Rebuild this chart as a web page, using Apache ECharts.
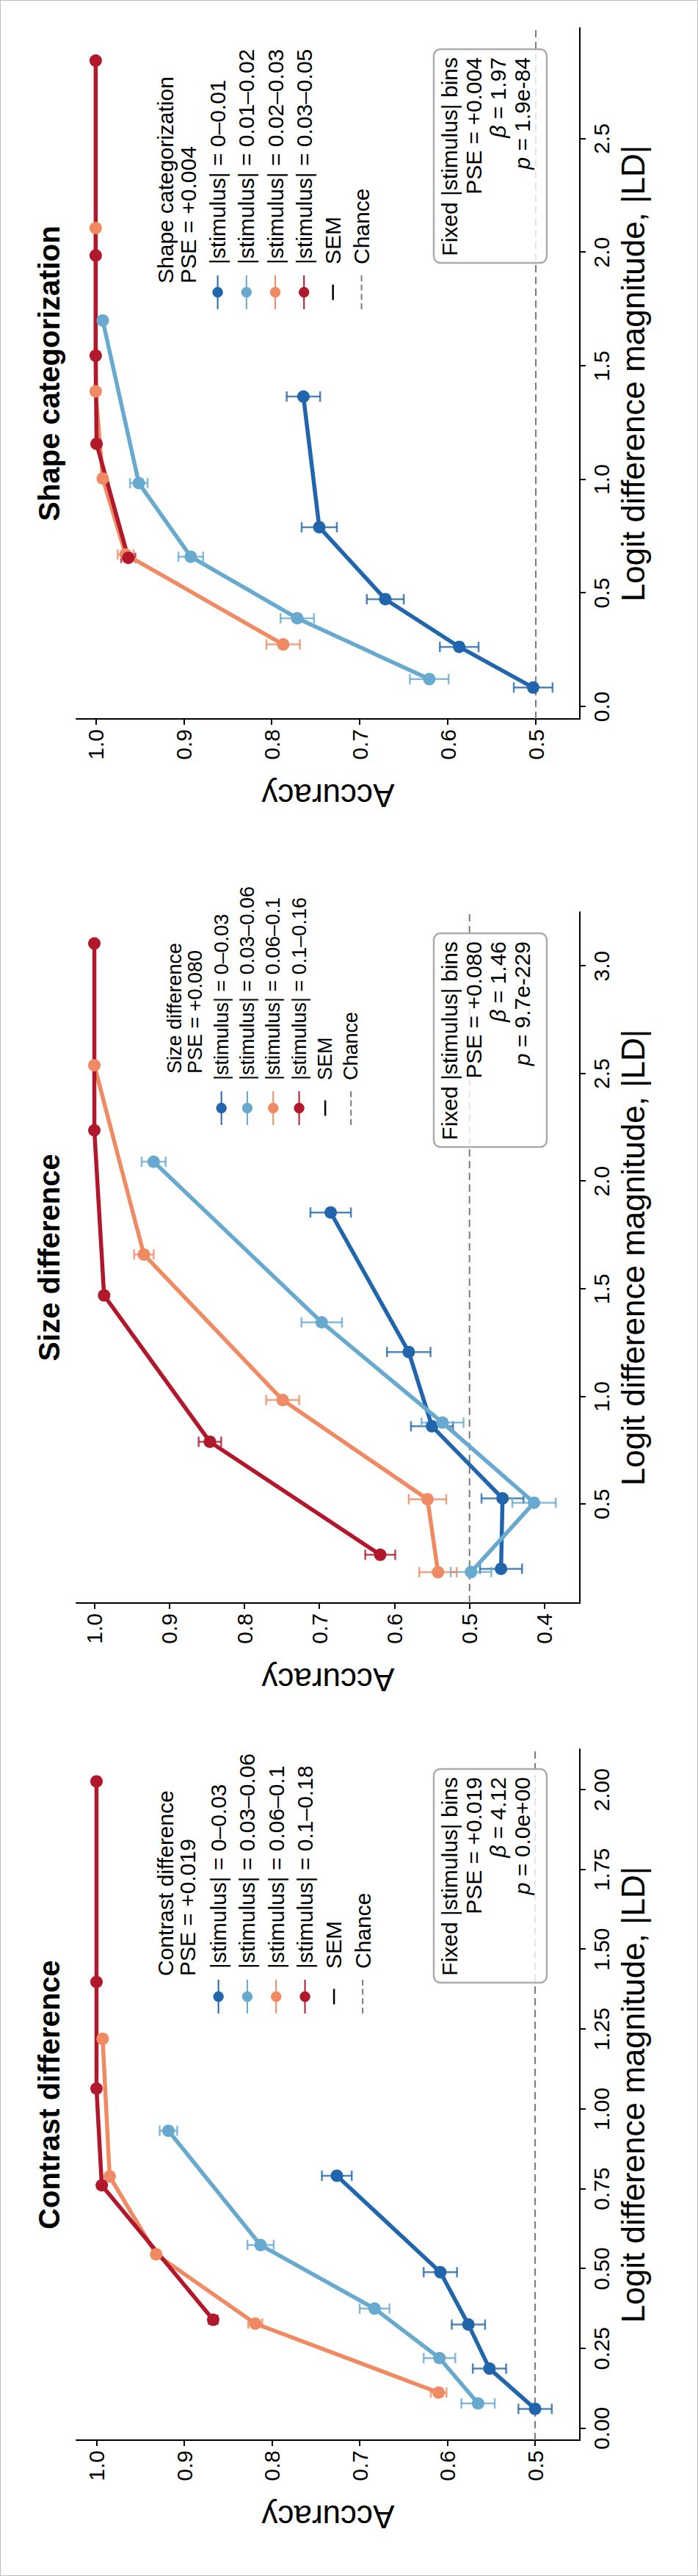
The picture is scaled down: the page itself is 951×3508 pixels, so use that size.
<!DOCTYPE html>
<html>
<head>
<meta charset="utf-8">
<title>Accuracy vs logit difference magnitude</title>
<script src="https://cdn.jsdelivr.net/npm/echarts@6/dist/echarts.min.js"></script>
<style>
  html, body { margin: 0; padding: 0; background: #fff; overflow: hidden; }
  /* the figure is drawn landscape and turned a quarter turn to the left */
  #main { position: absolute; left: 0; top: 0; width: 3508px; height: 951px;
          transform-origin: 0 0; transform: translate(0, 3508px) rotate(-90deg); }
  #frame { position: absolute; left: 0; top: 0; width: 951px; height: 3508px;
           box-sizing: border-box; border: 1px solid #bdbdbd; pointer-events: none; }
</style>
</head>
<body>
<div id="main"></div>
<div id="frame"></div>
<script type="text/javascript">
var font = '"Liberation Sans", Arial, sans-serif';
var colors = ['#2166ac', '#67a9cf', '#ef8a62', '#b2182b'];
var chance = 0.5;

// Contrast difference
var contrastBins = ['|stimulus| = 0–0.03', '|stimulus| = 0.03–0.06', '|stimulus| = 0.06–0.1', '|stimulus| = 0.1–0.18'];
var contrastLd  = [[0.061, 0.187, 0.325, 0.489, 0.791],
                   [0.078, 0.220, 0.375, 0.574, 0.932],
                   [0.112, 0.328, 0.545, 0.789, 1.220],
                   [0.340, 0.761, 1.064, 1.398, 2.026]];
var contrastAcc = [[0.500, 0.552, 0.576, 0.608, 0.726],
                   [0.565, 0.609, 0.683, 0.813, 0.918],
                   [0.610, 0.819, 0.932, 0.985, 0.993],
                   [0.867, 0.994, 1.000, 1.000, 1.000]];
var contrastSem = [[0.019, 0.019, 0.019, 0.019, 0.017],
                   [0.019, 0.018, 0.017, 0.015, 0.010],
                   [0.009, 0.008, 0.004, 0.003, 0.003],
                   [0.005, 0.003, 0, 0, 0]];
var contrastLdTicks = [0, 0.25, 0.5, 0.75, 1.0, 1.25, 1.5, 1.75, 2.0];
var contrastAccTicks = [0.5, 0.6, 0.7, 0.8, 0.9, 1.0];
var contrastLdRange = [-0.037, 2.127];
var contrastAccRange = [0.449, 1.023];
var contrastStats = ['+0.019', '4.12', '0.0e+00'];

// Size difference
var sizeBins = ['|stimulus| = 0–0.03', '|stimulus| = 0.03–0.06', '|stimulus| = 0.06–0.1', '|stimulus| = 0.1–0.16'];
var sizeLd  = [[0.200, 0.527, 0.862, 1.207, 1.855],
               [0.185, 0.507, 0.879, 1.345, 2.091],
               [0.184, 0.523, 0.984, 1.660, 2.539],
               [0.265, 0.790, 1.470, 2.237, 3.105]];
var sizeAcc = [[0.458, 0.456, 0.550, 0.581, 0.685],
               [0.498, 0.414, 0.536, 0.697, 0.921],
               [0.542, 0.556, 0.749, 0.934, 1.000],
               [0.619, 0.846, 0.987, 1.000, 1.000]];
var sizeSem = [[0.028, 0.028, 0.028, 0.029, 0.027],
               [0.027, 0.029, 0.028, 0.027, 0.016],
               [0.025, 0.025, 0.022, 0.013, 0.002],
               [0.020, 0.015, 0.004, 0, 0]];
var sizeLdTicks = [0.5, 1.0, 1.5, 2.0, 2.5, 3.0];
var sizeAccTicks = [0.4, 0.5, 0.6, 0.7, 0.8, 0.9, 1.0];
var sizeLdRange = [0.041, 3.251];
var sizeAccRange = [0.353, 1.024];
var sizeStats = ['+0.080', '1.46', '9.7e-229'];

// Shape categorization
var shapeBins = ['|stimulus| = 0–0.01', '|stimulus| = 0.01–0.02', '|stimulus| = 0.02–0.03', '|stimulus| = 0.03–0.05'];
var shapeLd  = [[0.084, 0.263, 0.473, 0.790, 1.365],
                [0.121, 0.389, 0.660, 0.984, 1.700],
                [0.274, 0.670, 1.004, 1.388, 2.107],
                [0.655, 1.157, 1.545, 1.986, 2.844]];
var shapeAcc = [[0.503, 0.587, 0.671, 0.746, 0.764],
                [0.621, 0.771, 0.892, 0.951, 0.992],
                [0.787, 0.966, 0.992, 1.000, 1.000],
                [0.963, 0.999, 1.000, 1.000, 1.000]];
var shapeSem = [[0.022, 0.022, 0.021, 0.020, 0.019],
                [0.022, 0.019, 0.014, 0.010, 0.002],
                [0.019, 0.009, 0.003, 0.002, 0.002],
                [0.008, 0.002, 0, 0, 0]];
var shapeLdTicks = [0.0, 0.5, 1.0, 1.5, 2.0, 2.5];
var shapeAccTicks = [0.5, 0.6, 0.7, 0.8, 0.9, 1.0];
var shapeLdRange = [-0.054, 2.988];
var shapeAccRange = [0.450, 1.022];
var shapeStats = ['+0.004', '1.97', '1.9e-84'];

var panels = [
  { title: 'Contrast difference', bins: contrastBins, ld: contrastLd, acc: contrastAcc, sem: contrastSem,
    ldTicks: contrastLdTicks, accTicks: contrastAccTicks, ldRange: contrastLdRange, accRange: contrastAccRange,
    stats: contrastStats, digits: 2 },
  { title: 'Size difference', bins: sizeBins, ld: sizeLd, acc: sizeAcc, sem: sizeSem,
    ldTicks: sizeLdTicks, accTicks: sizeAccTicks, ldRange: sizeLdRange, accRange: sizeAccRange,
    stats: sizeStats, digits: 1 },
  { title: 'Shape categorization', bins: shapeBins, ld: shapeLd, acc: shapeAcc, sem: shapeSem,
    ldTicks: shapeLdTicks, accTicks: shapeAccTicks, ldRange: shapeLdRange, accRange: shapeAccRange,
    stats: shapeStats, digits: 1 }
];

// pixel layout of each panel (unrotated canvas)
var layout = [
  { left: 185,  legLeft: 765,  legTop: 278, legFont: 30, legLine: 39.3, headLeft: 817,  headY: 240, headLine: 30, boxLeft: 808 },
  { left: 1325, legLeft: 1975, legTop: 284, legFont: 27, legLine: 35.3, headLeft: 2046, headY: 252, headLine: 28, boxLeft: 1946 },
  { left: 2529, legLeft: 3086, legTop: 277, legFont: 30, legLine: 39.2, headLeft: 3122, headY: 241, headLine: 31, boxLeft: 3150 }
];
var plotTop = 104, plotW = 941, plotH = 686;

var semIcon = 'path://M0,0h0.01v0.01h-0.01z M12.5,8h21v2.5h-21z M45.99,17.99h0.01v0.01h-0.01z';
var chanceIcon = 'path://M0,0h0.01v0.01h-0.01z M0,8h8v2h-8z M12.7,8h8v2h-8z M25.4,8h8v2h-8z M38,8h8v2h-8z M45.99,17.99h0.01v0.01h-0.01z';

function errorBar(color) {
  return function (params, api) {
    var e = api.value(2);
    if (!e) return null;
    var lo = api.coord([api.value(0), api.value(1) - e]);
    var hi = api.coord([api.value(0), api.value(1) + e]);
    var cap = 7;
    var st = { stroke: color, lineWidth: 2.5, opacity: 0.8 };
    return { type: 'group', children: [
      { type: 'line', shape: { x1: lo[0], y1: lo[1], x2: hi[0], y2: hi[1] }, style: st },
      { type: 'line', shape: { x1: lo[0] - cap, y1: lo[1], x2: lo[0] + cap, y2: lo[1] }, style: st },
      { type: 'line', shape: { x1: hi[0] - cap, y1: hi[1], x2: hi[0] + cap, y2: hi[1] }, style: st }
    ]};
  };
}

var option = { animation: false, grid: [], xAxis: [], yAxis: [], legend: [], series: [], graphic: [] };

panels.forEach(function (p, i) {
  var L = layout[i];
  option.grid.push({ left: L.left, top: plotTop, width: plotW, height: plotH });

  option.xAxis.push({
    type: 'value', gridIndex: i, min: p.ldRange[0], max: p.ldRange[1],
    name: 'Logit difference magnitude, |LD|', nameLocation: 'middle', nameGap: 50,
    nameTextStyle: { fontSize: 44, color: '#000', fontFamily: font },
    axisLine: { show: true, onZero: false, lineStyle: { color: '#000', width: 2 } },
    axisTick: { show: true, length: 8, lineStyle: { color: '#000', width: 2 }, customValues: p.ldTicks },
    axisLabel: { fontSize: 30, color: '#000', fontFamily: font, margin: 14, customValues: p.ldTicks,
                 formatter: function (v) { return v.toFixed(p.digits); } },
    splitLine: { show: false }
  });
  option.yAxis.push({
    type: 'value', gridIndex: i, min: p.accRange[0], max: p.accRange[1],
    name: 'Accuracy', nameLocation: 'middle', nameGap: 82,
    nameTextStyle: { fontSize: 44, color: '#000', fontFamily: font },
    axisLine: { show: true, onZero: false, lineStyle: { color: '#000', width: 2 } },
    axisTick: { show: true, length: 8, lineStyle: { color: '#000', width: 2 }, customValues: p.accTicks },
    axisLabel: { fontSize: 30, color: '#000', fontFamily: font, margin: 14, customValues: p.accTicks,
                 formatter: function (v) { return v.toFixed(1); } },
    splitLine: { show: false }
  });

  // chance level
  option.series.push({
    type: 'line', name: 'Chance', xAxisIndex: i, yAxisIndex: i, z: 1, silent: true,
    data: [[p.ldRange[0], chance], [p.ldRange[1], chance]], symbol: 'none',
    lineStyle: { color: '#7a7a7a', width: 2, type: [10, 6] }, itemStyle: { color: '#7a7a7a' }
  });

  p.bins.forEach(function (name, k) {
    var pts = p.ld[k].map(function (x, j) { return [x, p.acc[k][j]]; });
    var errs = p.ld[k].map(function (x, j) { return [x, p.acc[k][j], p.sem[k][j]]; });
    option.series.push({
      type: 'custom', name: 'sem ' + i + '-' + k, xAxisIndex: i, yAxisIndex: i, z: 2, silent: true,
      renderItem: errorBar(colors[k]), data: errs, encode: { x: 0, y: 1 }
    });
    option.series.push({
      type: 'line', name: name, xAxisIndex: i, yAxisIndex: i, z: 3, silent: true,
      data: pts, symbol: 'circle', symbolSize: 17, showSymbol: true,
      lineStyle: { color: colors[k], width: 5.5 }, itemStyle: { color: colors[k] }
    });
  });

  option.legend.push({
    orient: 'vertical', left: L.legLeft, top: L.legTop, padding: 0, itemGap: 0,
    itemWidth: 46, itemHeight: 18, selectedMode: false,
    textStyle: { fontSize: L.legFont, fontFamily: font, color: '#000', lineHeight: L.legLine, padding: [0, 0, 0, 10] },
    data: p.bins.map(function (n) { return { name: n }; })
      .concat([{ name: 'SEM', icon: semIcon }, { name: 'Chance', icon: chanceIcon }])
  });

  // panel title
  option.graphic.push({
    type: 'text', x: L.left + plotW / 2, y: 67, z: 20,
    style: { text: p.title, fill: '#000', fontSize: 40, fontWeight: 'bold', fontFamily: font,
             align: 'center', verticalAlign: 'middle' }
  });
  // legend heading
  option.graphic.push({
    type: 'text', x: L.headLeft, y: L.headY, z: 20,
    style: { text: p.title + '\nPSE = ' + p.stats[0], fill: '#000', fontSize: L.legFont, fontFamily: font,
             lineHeight: L.headLine, align: 'left', verticalAlign: 'middle' }
  });
  // fit summary box
  option.graphic.push({
    type: 'rect', z: 20,
    shape: { x: L.boxLeft, y: 591, width: 291, height: 154, r: 9 },
    style: { fill: 'rgba(255,255,255,0.8)', stroke: '#ababab', lineWidth: 2.5 }
  });
  option.graphic.push({
    type: 'text', x: L.boxLeft + 280, y: 596, z: 21,
    style: {
      text: 'Fixed |stimulus| bins\nPSE = ' + p.stats[0] + '\n{i|β} = ' + p.stats[1] + '\n{i|p} = ' + p.stats[2],
      fill: '#000', fontSize: 30, fontFamily: font, lineHeight: 33, align: 'right', verticalAlign: 'top',
      rich: { i: { fontSize: 30, fontFamily: font, fontStyle: 'italic', lineHeight: 33, fill: '#000' } }
    }
  });
});

// legend entry for the error bars
option.series.push({
  type: 'line', name: 'SEM', xAxisIndex: 0, yAxisIndex: 0, data: [], silent: true,
  lineStyle: { color: '#000' }, itemStyle: { color: '#000' }
});

var myChart = echarts.init(document.getElementById('main'), null, { renderer: 'svg', width: 3508, height: 951 });
myChart.setOption(option);
</script>
</body>
</html>
